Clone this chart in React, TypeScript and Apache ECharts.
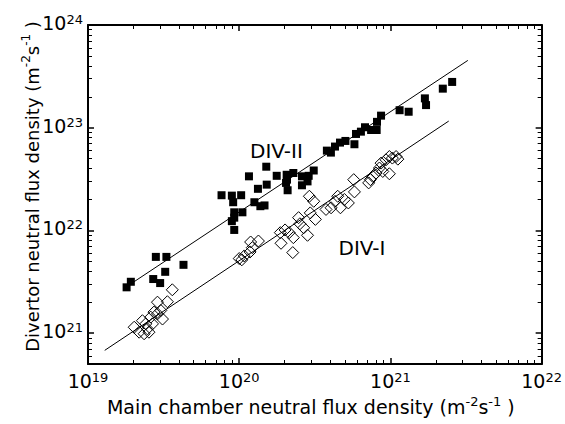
import React, { useEffect, useRef } from 'react';
import * as echarts from 'echarts';

// Axis decades (exponents of 10) used for the tick labels
const xTickExponents = [19, 20, 21, 22];
const yTickExponents = [21, 22, 23, 24];
const yMinValue = 5e20;

// DIV-II (filled squares)
const divIIx = [
  1.80e19, 1.92e19, 2.81e19, 3.30e19, 3.24e19, 2.70e19, 3.00e19, 4.28e19,
  7.64e19, 8.94e19, 1.03e20, 9.12e19, 9.27e19, 1.05e20, 8.94e19, 9.27e19, 9.27e19,
  1.16e20, 1.33e20, 1.52e20, 1.51e20, 1.77e20, 1.26e20, 1.38e20, 1.47e20,
  2.06e20, 2.28e20, 2.04e20, 2.09e20, 2.07e20, 2.60e20, 2.83e20, 2.88e20, 3.11e20, 2.60e20,
  3.80e20, 4.04e20, 4.30e20, 4.64e20, 5.04e20, 5.78e20, 5.92e20, 6.38e20, 6.79e20,
  7.45e20, 8.11e20, 8.15e20, 8.67e20, 1.15e21, 1.32e21, 1.69e21, 1.72e21, 2.22e21, 2.56e21,
];
const divIIy = [
  2.79e21, 3.16e21, 5.52e21, 5.52e21, 3.95e21, 3.36e21, 3.07e21, 4.62e21,
  2.20e22, 2.18e22, 2.20e22, 1.88e22, 1.50e22, 1.50e22, 1.23e22, 1.33e22, 1.01e22,
  3.36e22, 2.54e22, 2.79e22, 4.17e22, 3.40e22, 1.88e22, 1.72e22, 1.75e22,
  3.48e22, 3.62e22, 2.90e22, 2.46e22, 3.12e22, 2.75e22, 3.00e22, 3.40e22, 3.83e22, 3.36e22,
  5.98e22, 5.72e22, 6.55e22, 7.16e22, 7.43e22, 6.90e22, 8.69e22, 9.15e22, 1.01e23,
  9.50e22, 9.50e22, 1.14e23, 1.31e23, 1.48e23, 1.43e23, 1.93e23, 1.66e23, 2.40e23, 2.79e23,
];

// DIV-I (open diamonds)
const divIx = [
  2.02e19, 2.18e19, 2.29e19, 2.35e19, 2.47e19, 2.60e19, 2.67e19, 2.88e19, 2.88e19,
  3.11e19, 3.03e19, 3.35e19, 3.61e19, 2.53e19, 2.73e19, 2.41e19,
  1.04e20, 1.08e20, 1.18e20, 1.19e20, 1.34e20, 1.22e20, 1.00e20,
  1.87e20, 1.89e20, 2.01e20, 2.14e20, 2.28e20, 2.26e20, 2.47e20, 2.52e20, 2.67e20,
  2.83e20, 2.91e20, 3.11e20, 3.19e20, 2.95e20,
  3.75e20, 4.05e20, 4.30e20, 4.48e20, 4.67e20, 5.27e20, 4.96e20, 5.78e20, 5.72e20,
  7.18e20, 7.37e20, 7.64e20, 8.04e20, 8.46e20, 8.90e20, 9.35e20, 9.84e20, 1.03e21,
  1.09e21, 1.12e21, 9.84e20, 8.67e20,
];
const divIy = [
  1.14e21, 1.02e21, 1.32e21, 9.85e20, 1.10e21, 1.43e21, 1.23e21, 1.54e21, 2.00e21,
  1.37e21, 1.66e21, 2.02e21, 2.64e21, 1.02e21, 1.60e21, 1.23e21,
  5.17e21, 5.64e21, 6.17e21, 7.71e21, 7.88e21, 6.79e21, 5.32e21,
  9.51e21, 7.49e21, 1.01e22, 9.51e21, 8.50e21, 6.08e21, 1.33e22, 1.16e22, 1.06e22,
  8.96e21, 2.15e22, 1.92e22, 1.28e22, 1.48e22,
  1.60e22, 1.66e22, 1.92e22, 2.15e22, 1.66e22, 1.85e22, 2.00e22, 2.37e22, 3.12e22,
  2.90e22, 3.12e22, 3.36e22, 3.62e22, 4.05e22, 3.75e22, 4.87e22, 5.24e22, 5.06e22,
  5.24e22, 4.94e22, 3.56e22, 4.52e22,
];

// Fit lines (end points)
const divIIFitX = [1.91e19, 3.25e21];
const divIIFitY = [3.0e21, 4.52e23];
const divIFitX = [1.29e19, 2.43e21];
const divIFitY = [6.79e20, 1.16e23];

const seriesNames = ['DIV-II', 'DIV-I'];

const FONT = "'DejaVu Sans', 'Liberation Sans', Arial, sans-serif";
const TICK_COLOR = '#000';

const toLog = (xs: number[], ys: number[]) => xs.map((x, i) => [Math.log10(x), Math.log10(ys[i])]);

const minorTicks = (lo: number, hi: number) => {
  const out: number[] = [];
  for (let d = Math.floor(lo); d < hi; d++) {
    for (let k = 2; k <= 9; k++) {
      const v = d + Math.log10(k);
      if (v > lo + 1e-6 && v < hi - 1e-6) out.push(v);
    }
  }
  return out;
};

export default function App() {
  const ref = useRef<HTMLDivElement>(null);
  useEffect(() => {
    const chart = echarts.init(ref.current!, null, { renderer: 'svg' });
    const xMin = xTickExponents[0];
    const xMax = xTickExponents[xTickExponents.length - 1];
    const yMin = Math.log10(yMinValue);
    const yMax = yTickExponents[yTickExponents.length - 1];
    const xMinor = minorTicks(xMin, xMax);
    const yMinor = minorTicks(yMin, yMax);

    const labelRich = {
      b: { fontFamily: FONT, fontSize: 19, lineHeight: 20, color: '#000' },
      s: { fontFamily: FONT, fontSize: 13, lineHeight: 11, verticalAlign: 'top', color: '#000' },
    };
    const titleRich = {
      t: { fontFamily: FONT, fontSize: 19, lineHeight: 24, color: '#000' },
      s: { fontFamily: FONT, fontSize: 13, lineHeight: 14, verticalAlign: 'top', color: '#000' },
    };
    const titleRichY = {
      t: { fontFamily: FONT, fontSize: 18, lineHeight: 24, color: '#000' },
      s: { fontFamily: FONT, fontSize: 12, lineHeight: 14, verticalAlign: 'top', color: '#000' },
    };
    const fmt = (v: number) => `{b|10}{s|${Math.round(v)}}`;
    const lineStyle = { color: '#000', width: 2 };
    const majorTick = (vals: number[]) => ({
      show: true, inside: true, length: 6, customValues: vals, lineStyle: { color: TICK_COLOR, width: 1.5 },
    });
    const minorTick = (vals: number[]) => ({
      show: true, inside: true, length: 4, customValues: vals, lineStyle: { color: TICK_COLOR, width: 1 },
    });

    const xBase = { type: 'value', min: xMin, max: xMax, splitLine: { show: false } };
    const yBase = { type: 'value', min: yMin, max: yMax, splitLine: { show: false } };
    const hiddenLine = { show: false, onZero: false };

    chart.setOption({
      animation: false,
      backgroundColor: '#fff',
      textStyle: { fontFamily: FONT },
      grid: { left: 88, right: 20, top: 25, bottom: 60 },
      xAxis: [
        {
          ...xBase,
          position: 'bottom',
          axisLine: { show: true, onZero: false, lineStyle },
          axisTick: majorTick(xTickExponents),
          axisLabel: { show: true, customValues: xTickExponents, formatter: fmt, rich: labelRich, margin: 7 },
          name: '{t|Main chamber neutral flux density (m}{s|-2}{t|s}{s|-1}{t| )}',
          nameLocation: 'middle',
          nameGap: 30,
          nameTextStyle: { rich: titleRich, padding: [0, 8, 0, 0] },
        },
        { ...xBase, position: 'bottom', axisLine: hiddenLine, axisTick: minorTick(xMinor), axisLabel: { show: false } },
        { ...xBase, position: 'top', axisLine: { show: true, onZero: false, lineStyle }, axisTick: majorTick(xTickExponents), axisLabel: { show: false } },
        { ...xBase, position: 'top', axisLine: hiddenLine, axisTick: minorTick(xMinor), axisLabel: { show: false } },
      ],
      yAxis: [
        {
          ...yBase,
          position: 'left',
          axisLine: { show: true, onZero: false, lineStyle },
          axisTick: majorTick(yTickExponents),
          axisLabel: { show: true, customValues: yTickExponents, formatter: fmt, rich: labelRich, margin: 5, padding: [0, 0, 4, 0] },
          name: '{t|Divertor neutral flux density (m}{s|-2}{t|s}{s|-1}{t| )}',
          nameLocation: 'middle',
          nameRotate: 90,
          nameGap: 44,
          nameMoveOverlap: false,
          nameTextStyle: { rich: titleRichY, padding: [0, 0, 0, 16] },
        },
        { ...yBase, position: 'left', axisLine: hiddenLine, axisTick: minorTick(yMinor), axisLabel: { show: false } },
        { ...yBase, position: 'right', axisLine: { show: true, onZero: false, lineStyle }, axisTick: majorTick(yTickExponents), axisLabel: { show: false } },
        { ...yBase, position: 'right', axisLine: hiddenLine, axisTick: minorTick(yMinor), axisLabel: { show: false } },
      ],
      series: [
        {
          name: seriesNames[0] + ' fit',
          type: 'line',
          data: toLog(divIIFitX, divIIFitY),
          showSymbol: false,
          symbol: 'none',
          lineStyle: { color: '#000', width: 1 },
          silent: true,
        },
        {
          name: seriesNames[1] + ' fit',
          type: 'line',
          data: toLog(divIFitX, divIFitY),
          showSymbol: false,
          symbol: 'none',
          lineStyle: { color: '#000', width: 1 },
          silent: true,
        },
        {
          name: seriesNames[1],
          type: 'scatter',
          symbol: 'diamond',
          symbolSize: 12,
          data: toLog(divIx, divIy),
          itemStyle: { color: 'rgba(0,0,0,0)', borderColor: '#000', borderWidth: 1, opacity: 1 },
        },
        {
          name: seriesNames[0],
          type: 'scatter',
          symbol: 'rect',
          symbolSize: 8,
          data: toLog(divIIx, divIIy),
          itemStyle: { color: '#000', opacity: 1 },
        },
      ],
      graphic: [
        {
          type: 'text',
          x: 250,
          y: 150.5,
          style: { text: seriesNames[0], font: `20px ${FONT}`, fill: '#000', textAlign: 'left', textVerticalAlign: 'middle' },
        },
        {
          type: 'text',
          x: 338.5,
          y: 247.5,
          style: { text: seriesNames[1], font: `20px ${FONT}`, fill: '#000', textAlign: 'left', textVerticalAlign: 'middle' },
        },
      ],
    });

    return () => chart.dispose();
  }, []);
  return <div ref={ref} style={{ position: 'absolute', left: 0, top: 0, width: 565, height: 424 }} />;
}
